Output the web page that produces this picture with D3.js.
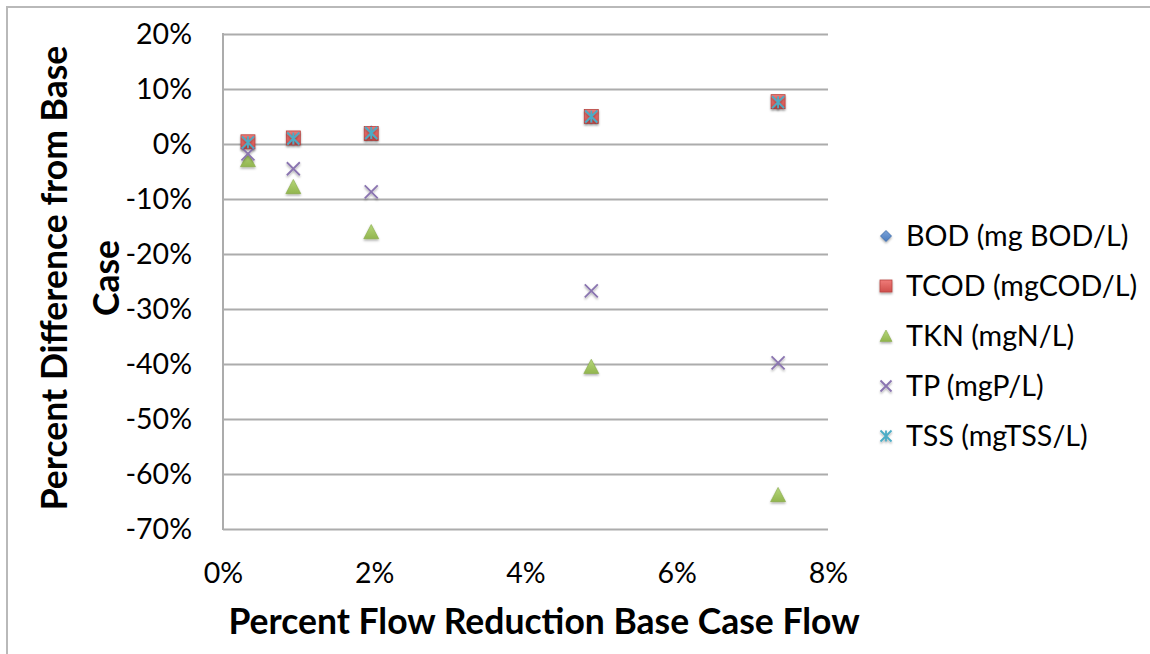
<!DOCTYPE html>
<html>
<head>
<meta charset="utf-8">
<script src="https://cdn.jsdelivr.net/npm/d3@7"></script>
<style>
  html, body { margin: 0; padding: 0; background: #fff; }
  svg { display: block; font-family: Lato, "Open Sans", sans-serif; }
</style>
</head>
<body>
<svg id="chart" width="1150" height="654"></svg>
<script>
// Flow reduction (%) for each scenario
const flowReduction = [0.33, 0.93, 1.96, 4.87, 7.34];

// Percent difference from the base case for each constituent
const bod  = [0.6, 1.2, 2.3, 5.0, 7.4];
const tcod = [0.4, 1.1, 1.9, 5.0, 7.7];
const tkn  = [-2.9, -7.8, -16.0, -40.5, -63.8];
const tp   = [-1.8, -4.5, -8.7, -26.7, -39.8];
const tss  = [0.3, 1.0, 2.0, 5.0, 7.6];

const seriesNames = ["BOD (mg BOD/L)", "TCOD (mgCOD/L)", "TKN (mgN/L)", "TP (mgP/L)", "TSS (mgTSS/L)"];
const xTicks = [0, 2, 4, 6, 8];
const yTicks = [20, 10, 0, -10, -20, -30, -40, -50, -60, -70];

const series = [
  { name: seriesNames[0], values: bod,  shape: "diamond",  stroke: "#3a6aa8" },
  { name: seriesNames[1], values: tcod, shape: "square",   stroke: "#b84542" },
  { name: seriesNames[2], values: tkn,  shape: "triangle", stroke: "#86a948" },
  { name: seriesNames[3], values: tp,   shape: "cross",    stroke: "#8a74b0" },
  { name: seriesNames[4], values: tss,  shape: "asterisk", stroke: "#4bacc6" }
];

const svg = d3.select("#chart");
const plot = { left: 223, top: 34, right: 828, bottom: 529 };

const x = d3.scaleLinear().domain([0, 8]).range([plot.left, plot.right]);
const y = d3.scaleLinear().domain([-70, 20]).range([plot.bottom, plot.top]);

// Outer chart frame
svg.append("rect")
  .attr("x", 7).attr("y", 7).attr("width", 1200).attr("height", 700)
  .attr("fill", "none").attr("stroke", "#b9b9b9").attr("stroke-width", 2);

// Soft drop shadow used by the markers
const defs = svg.append("defs");
const f = defs.append("filter").attr("id", "shadow")
  .attr("x", "-50%").attr("y", "-50%").attr("width", "200%").attr("height", "200%");
f.append("feDropShadow").attr("dx", 0).attr("dy", 1.5).attr("stdDeviation", 1.2)
  .attr("flood-color", "#000").attr("flood-opacity", 0.35);

function gradient(id, top, bottom) {
  const g = defs.append("linearGradient").attr("id", id)
    .attr("x1", 0).attr("y1", 0).attr("x2", 0).attr("y2", 1);
  g.append("stop").attr("offset", "0%").attr("stop-color", top);
  g.append("stop").attr("offset", "100%").attr("stop-color", bottom);
}
gradient("sqGrad", "#ef7b78", "#d04f4c");
gradient("triGrad", "#b5d77a", "#92b54e");
gradient("diaGrad", "#7ba3d8", "#4a7cbf");
const fills = { diamond: "url(#diaGrad)", square: "url(#sqGrad)", triangle: "url(#triGrad)" };

// Horizontal gridlines
svg.append("g")
  .attr("transform", `translate(${plot.left},0)`)
  .call(d3.axisLeft(y).tickValues(yTicks).tickSize(-(plot.right - plot.left)).tickFormat(""))
  .call(g => g.select(".domain").remove())
  .call(g => g.selectAll("line").attr("stroke", "#acacac").attr("stroke-width", 2));

// Vertical axis line
svg.append("line")
  .attr("x1", plot.left).attr("x2", plot.left)
  .attr("y1", plot.top - 1).attr("y2", plot.bottom + 1)
  .attr("stroke", "#acacac").attr("stroke-width", 2);

// Y tick labels
const yAxis = svg.append("g")
  .attr("transform", `translate(${plot.left},0)`)
  .call(d3.axisLeft(y).tickValues(yTicks).tickSize(0).tickPadding(31).tickFormat(d => d + "%"));
yAxis.select(".domain").remove();
yAxis.selectAll("text").attr("font-family", "Lato, sans-serif").attr("font-size", 28.5).attr("fill", "#000");

// X tick labels
const xAxis = svg.append("g")
  .attr("transform", `translate(0,${plot.bottom})`)
  .call(d3.axisBottom(x).tickValues(xTicks).tickSize(0).tickPadding(34).tickFormat(d => d + "%"));
xAxis.select(".domain").remove();
xAxis.selectAll("text").attr("font-family", "Lato, sans-serif").attr("font-size", 28.5).attr("fill", "#000");

// Axis titles
svg.append("text")
  .attr("x", 544).attr("y", 634)
  .attr("text-anchor", "middle")
  .attr("font-weight", "bold").attr("font-size", 35.5)
  .text("Percent Flow Reduction Base Case Flow");

const yTitle = svg.append("text")
  .attr("transform", "translate(67,278) rotate(-90)")
  .attr("text-anchor", "middle")
  .attr("font-weight", "bold").attr("font-size", 35.5);
yTitle.append("tspan").attr("x", 0).attr("dy", 0).text("Percent Difference from Base");
yTitle.append("tspan").attr("x", 0).attr("dy", 52).text("Case");

// Marker drawing
function drawMarker(g, shape, size, s) {
  const h = size / 2;
  if (shape === "diamond") {
    g.append("path").attr("d", `M0,${-h}L${h},0L0,${h}L${-h},0Z`)
      .attr("fill", fills.diamond).attr("stroke", s.stroke).attr("stroke-width", 0.8);
  } else if (shape === "square") {
    g.append("rect").attr("x", -h).attr("y", -h).attr("width", size).attr("height", size)
      .attr("fill", fills.square).attr("stroke", s.stroke).attr("stroke-width", 0.8);
  } else if (shape === "triangle") {
    g.append("path").attr("d", `M0,${-h}L${h},${h * 0.9}L${-h},${h * 0.9}Z`)
      .attr("fill", fills.triangle).attr("stroke", s.stroke).attr("stroke-width", 0.6);
  } else if (shape === "cross") {
    g.append("path").attr("d", `M${-h},${-h}L${h},${h}M${h},${-h}L${-h},${h}`)
      .attr("stroke", s.stroke).attr("stroke-width", 1.8).attr("fill", "none");
  } else if (shape === "asterisk") {
    g.append("path").attr("d", `M${-h},${-h}L${h},${h}M${h},${-h}L${-h},${h}M0,${-h}L0,${h}`)
      .attr("stroke", s.stroke).attr("stroke-width", 1.8).attr("fill", "none");
  }
}

const markerSize = { diamond: 11, square: 14, triangle: 15, cross: 13, asterisk: 12 };
const legendMarkerSize = { diamond: 11, square: 12, triangle: 12, cross: 11, asterisk: 11 };

series.forEach(s => {
  const g = svg.append("g").attr("filter", "url(#shadow)");
  s.values.forEach((v, i) => {
    const m = g.append("g").attr("transform", `translate(${x(flowReduction[i])},${y(v)})`);
    drawMarker(m, s.shape, markerSize[s.shape], s);
  });
});

// Legend
const legend = svg.append("g").attr("transform", "translate(886,236)");
series.forEach((s, i) => {
  const row = legend.append("g").attr("transform", `translate(0,${i * 50})`);
  const m = row.append("g").attr("filter", "url(#shadow)");
  drawMarker(m, s.shape, legendMarkerSize[s.shape], s);
  row.append("text").attr("x", 20).attr("dy", "0.36em")
    .attr("font-size", 28.7).attr("fill", "#000").text(s.name);
});
</script>
</body>
</html>
